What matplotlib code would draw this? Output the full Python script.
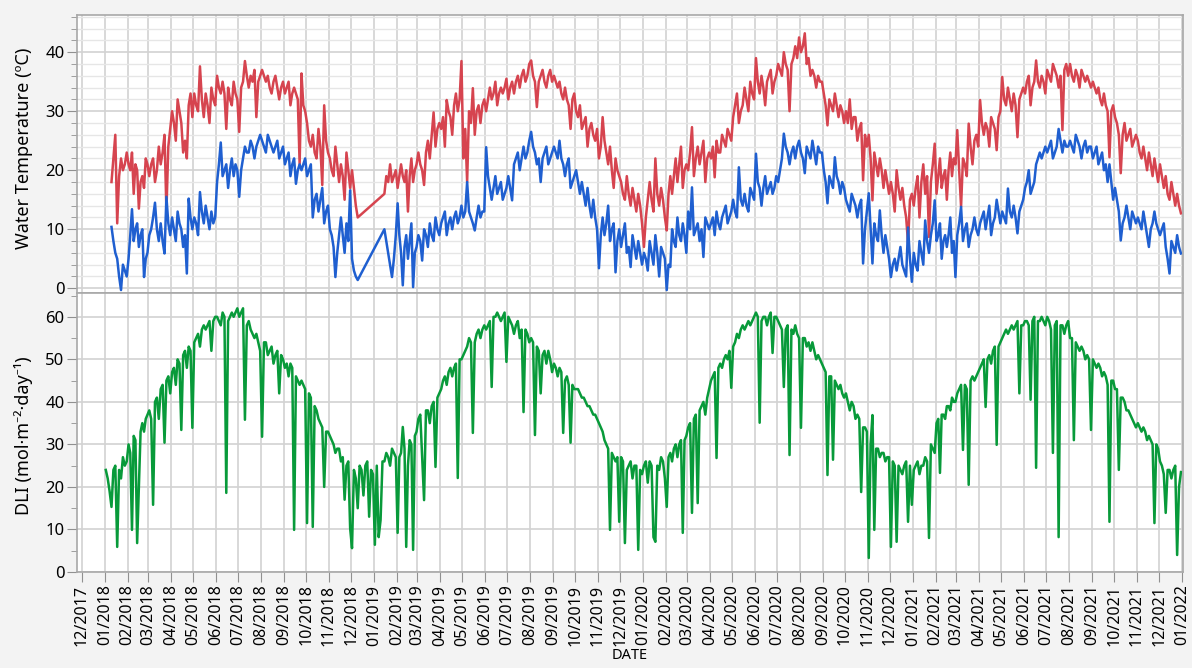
import numpy as np
import pandas as pd
import matplotlib
matplotlib.use("Agg")
import matplotlib.pyplot as plt
import matplotlib.dates as mdates
from matplotlib.ticker import MultipleLocator

plt.rcParams['font.family'] = ['Noto Sans', 'DejaVu Sans']

nan = np.nan

# values, 12 samples per month (rows = Jan..Dec)
# daily max water temperature (ºC)
tmax_2018 = [
    [nan, nan, nan, 18, 22, 26, 11, 19, 22, 20, 21, 23],
    [21, 20, 23, 16, 21, 20, 13.5, 18, 19, 17, 22, 21],
    [19, 21, 22, 18, 20, 24, 21, 23, 26, 13, 24, 27],
    [30, 28, 25, 32, 30, 28, 23, 25, 22, 31, 33, 29],
    [33, 31, 30, 37.6, 32, 29, 33, 31, 28, 34, 32, 31],
    [36, 34, 33, 35, 33, 27, 34, 32, 31, 35, 33, 32],
    [26.5, 34, 35, 38.5, 36, 34, 36, 35, 37, 29, 35, 36],
    [37, 36, 35, 36, 34, 33, 35, 36, 34, 32, 34, 35],
    [33, 34, 35, 31, 33, 34, 33, 32, 21, 36.4, 31, 30],
    [28, 25, 24, 26, 23, 22, 27, 24, 17.5, 31, 25, 23],
    [22, 20, 19, 24, 21, 18, 21, 19, 15, 23, 20, 17],
    [20, 17, 14, 12, nan, nan, nan, nan, nan, nan, nan, nan],
]
tmax_2019 = [
    [nan, nan, nan, nan, nan, 16, 19, 18, 21, 18, 19, 20],
    [17, 19, 21, 19, 18, 20, 13, 19, 22, 18, 20, 21],
    [23, 21, 20, 17.5, 23, 25, 22, 26, 29.8, 24, 27, 28],
    [27, 29, 24, 31.9, 30, 29, 26, 31, 33, 30, 32, 38.5],
    [22, 27, 18, 30, 28, 33.9, 26, 30, 31, 28, 31, 32],
    [30, 32, 34, 32, 33, 35, 31, 33, 34, 33, 34, 35.5],
    [32, 34, 35, 33, 35, 36, 34, 36, 37, 35, 36, 38],
    [38.6, 36, 35, 30.7, 35, 36, 37, 35, 34, 36, 37, 35],
    [36, 35, 34, 35, 33, 32, 34, 32, 31, 27, 32, 33],
    [30, 29, 31, 27, 28, 29, 24, 27, 28, 26, 25, 27],
    [22, 24, 29, 25, 23, 21, 24, 20, 17, 22, 20, 19],
    [18, 16, 15, 19, 16, 14, 17, 15, 13, 16, 14, 11],
]
tmax_2020 = [
    [7, 12, 15, 18, 15, 13, 22, 16, 14, 17, 15, 12],
    [9.8, 16, 19, 16, 19, 22, 18, 21, 24, 17, 20, 21],
    [20, 23, 27.3, 19, 22, 24, 21, 23, 25, 18, 22, 23],
    [22, 24, 18.8, 25, 23, 23, 26, 25, 24, 27, 26, 25],
    [29, 31, 33, 28, 30, 31, 34, 32, 30, 35, 33, 32],
    [39, 35, 33, 36, 34, 31, 35, 36, 37, 33, 35, 36],
    [38, 37, 36, 40, 38, 37, 30, 38, 39, 41, 39, 42.5],
    [40, 41, 43.2, 38, 39, 36, 37, 36, 34, 36, 35, 35],
    [33, 31, 27.6, 32, 31, 30, 33, 31, 29, 31, 30, 28],
    [30, 28, 32, 27, 29, 29, 25, 27, 28, 18.3, 26, 24],
    [26, 22, 14.9, 23, 21, 19, 22, 20, 17, 20, 18, 16],
    [18, 16, 13, 20, 17, 15, 17, 14, 12, 7.6, 15, 16],
]
tmax_2021 = [
    [14, 17, 19, 12, 18, 21, 16, 19, 8.7, 18, 21, 24.5],
    [16, 19, 22, 17, 19, 20, 15, 20, 23, 19, 22, 21],
    [26.8, 20, 13.8, 22, 21, 19, 27.9, 24, 21, 25, 26, 24],
    [31.9, 28, 26, 28, 27, 24, 29, 28, 27, 23.4, 29, 30],
    [35.8, 32, 31, 34, 32, 30, 33, 31, 25.6, 32, 33, 34],
    [33, 35, 36, 31, 34, 35, 38.6, 35, 34, 36, 35, 33],
    [37, 36, 35, 38, 37, 36, 34, 36, 26.8, 37, 38, 36],
    [38, 36, 35, 37, 36, 34, 37, 36, 35, 36, 35, 34],
    [35, 34, 33, 34, 32, 31, 33, 31, 30, 22.2, 30, 31],
    [29, 28, 26, 19.5, 26, 28, 25, 26, 27, 24, 25, 26],
    [25, 23, 22, 24, 22, 20, 23, 21, 19, 22, 20, 18],
    [21, 19, 17, 19, 16, 15, 18, 16, 14, 16, 14, 12.7],
]

# daily min water temperature (ºC)
tmin_2018 = [
    [nan, nan, nan, 10.4, 8, 6, 5, 2, -0.3, 4, 3, 2],
    [5, 9, 13.4, 8, 10, 11, 7, 9, 10, 1.9, 5, 6],
    [9, 10, 12, 14.5, 10, 8, 11, 8, 5.9, 15.5, 11, 9],
    [12, 10, 8, 13, 11, 10, 7, 9, 2.5, 15.2, 12, 10],
    [12, 11, 9, 16.3, 13, 11, 14, 12, 10, 13, 11, 12],
    [18, 21, 24.7, 19, 20, 21, 17, 20, 22, 19, 21, 20],
    [15.5, 20, 22, 24, 23, 23, 25, 24, 22, 24, 25, 26],
    [25, 24, 23, 26, 25, 24, 23, 24, 25, 22, 23, 24],
    [21, 22, 23, 19, 21, 22, 17.7, 20, 21, 20, 21, 22],
    [19, 20, 21, 12, 15, 16, 13, 15, 17, 11, 13, 14],
    [10, 9, 7, 1.9, 6, 9, 12, 9, 6, 11, 8, 16.6],
    [5, 3, 2, 1.4, nan, nan, nan, nan, nan, nan, nan, nan],
]
tmin_2019 = [
    [nan, nan, nan, nan, nan, 10, 8, 6, 4, 1.9, 5, 9],
    [14.4, 9, 6, 0.5, 7, 9, 5, 8, 11, 0.2, 6, 7],
    [9, 8, 4.7, 10, 9, 7, 11, 9, 8, 12, 10, 9],
    [11, 12, 13, 9, 11, 12, 10, 12, 13, 11, 12, 14],
    [12, 13, 18, 13, 12, 11, 9.8, 12, 14, 12, 13, 13],
    [23.9, 19, 17, 15, 17, 19, 16, 17, 18, 15, 16, 17],
    [19, 17, 14.9, 21, 22, 23, 20, 22, 24, 22, 23, 25],
    [26.5, 24, 23, 21, 22, 18, 22, 23, 24, 21, 22, 23],
    [24, 23, 22, 25, 22, 21, 19, 21, 22, 17, 18, 19],
    [20, 18, 16, 18, 16, 14, 17, 14, 12, 15, 12, 10],
    [3.4, 9, 12, 9, 11, 14, 8, 10, 11, 2.7, 8, 10],
    [7, 9, 11, 6, 7, 3.6, 9, 7, 5, 8, 6, 4],
]
tmin_2020 = [
    [6, 5, 3, 8, 6, 4, 9, 6, 2, 7, 6, 5],
    [-0.3, 4, 3.6, 10, 8, 7, 12, 9, 8, 11, 9, 6],
    [13, 10, 17.1, 9, 10, 11, 8, 10, 5.3, 12, 11, 10],
    [11, 12, 9, 13, 11, 10, 12, 13, 14, 11, 12, 13],
    [15, 13, 12, 20.5, 15, 14, 16, 14, 13, 17, 16, 15],
    [22.8, 18, 17, 14, 17, 19, 16, 17, 18, 16, 17, 19],
    [18, 20, 22, 26.2, 24, 23, 21, 23, 24, 22, 24, 25],
    [23, 22, 19.5, 24, 23, 22, 25, 23, 21, 24, 23, 23],
    [20, 18, 14.4, 19, 18, 17, 22.2, 19, 18, 16, 18, 17],
    [15, 14, 13, 16, 15, 14, 12, 14, 15, 4.2, 10, 13],
    [16.1, 10, 4.2, 11, 9, 8, 13.2, 9, 6, 9, 7, 5],
    [1.9, 4, 5, 3, 5, 7, 4, 3, 2, 10.3, 5, 1.1],
]
tmin_2021 = [
    [6, 4, 3, 8, 6, 4, 11.5, 8, 6, 9, 11, 14.9],
    [8, 9, 11, 5, 8, 9, 7, 9, 12, 6, 8, 1.9],
    [9, 11, 13.8, 8, 10, 11, 7, 9, 10, 12, 10, 9],
    [11, 12, 13, 10, 12, 14, 9, 11, 12, 15, 13, 11],
    [13, 12, 11, 16.9, 13, 12, 14, 12, 9.3, 13, 14, 15],
    [17, 18, 20, 16, 17, 18, 21, 22, 23, 22, 23, 24],
    [23, 24, 25, 22, 23, 24, 27, 25, 23, 25, 24, 24],
    [25, 24, 23, 26, 25, 24, 22, 24, 25, 23, 24, 24],
    [22, 23, 24, 21, 22, 23, 20, 21, 18, 21, 18, 15],
    [17, 15, 13, 8.1, 11, 12, 14, 12, 10, 13, 12, 11],
    [12, 11, 10, 13, 11, 9, 7, 10, 11, 13, 11, 10],
    [9, 10, 11, 7, 5, 2.5, 8, 7, 6, 9, 7, 5.9],
]

# daily light integral (mol·m-2·day-1)
dli_2018 = [
    [24, 22, 19, 15.3, 24, 25, 5.9, 24, 22, 27, 25, 26],
    [30, 28, 9.9, 32, 31, 6.8, 20, 33, 35, 33, 36, 37],
    [38, 36, 15.8, 40, 41, 36, 43, 44, 30.4, 45, 46, 42],
    [47, 48, 44, 50, 49, 33.4, 51, 52, 48, 53, 52, 33.9],
    [54, 55, 56, 53, 57, 58, 57, 58, 59, 52, 59, 60],
    [60, 59, 58, 61, 60, 18.6, 59, 60, 61, 60, 61, 62],
    [60, 61, 62, 35.8, 58, 59, 57, 56, 55, 56, 54, 52],
    [31.8, 54, 54, 51, 52, 53, 49, 51, 52, 42, 51, 50],
    [48, 49, 46, 49, 48, 9.9, 46, 45, 44, 45, 44, 43],
    [11.5, 42, 41, 10.6, 39, 38, 36, 35, 34, 20, 33, 33],
    [32, 31, 30, 28, 29, 29, 26, 27, 17, 25, 26, 10.3],
    [5.6, 24, 22, 15, 25, 24, 18, 25, 26, 13, 24, 23],
]
dli_2019 = [
    [6.4, 25, 8.2, 12.2, 26, 26, 28, 27, 25, 29, 28, 27],
    [9.2, 27, 28, 34.1, 29, 5.9, 25, 31, 30, 5.2, 32, 33],
    [36, 37, 27, 16.9, 38, 38, 35, 39, 40, 24.7, 41, 42],
    [43, 45, 46, 44, 47, 48, 46, 48, 49, 22.1, 50, 50],
    [51, 52, 53, 55, 54, 32.7, 54, 56, 57, 55, 57, 58],
    [57, 58, 59, 43.5, 60, 60, 61, 60, 59, 60, 61, 49.4],
    [60, 59, 58, 56, 58, 59, 55, 57, 37.6, 57, 56, 54],
    [55, 54, 32.2, 53, 52, 42, 51, 52, 49, 52, 50, 47],
    [49, 48, 46, 48, 47, 32.7, 45, 46, 44, 30.4, 44, 43],
    [43, 43, 42, 41, 41, 40, 39, 39, 38, 37, 37, 36],
    [35, 34, 33, 31, 30, 29, 9.9, 28, 27, 26, 27, 11.8],
    [27, 26, 6.8, 24, 25, 26, 22, 25, 25, 5.2, 24, 23],
]
dli_2020 = [
    [25, 26, 21, 26, 25, 8.2, 7.1, 25, 24, 27, 26, 22],
    [15.3, 27, 28, 26, 29, 30, 27, 30, 31, 9.2, 31, 32],
    [34, 35, 13.9, 36, 37, 16.2, 38, 39, 40, 37, 41, 43],
    [45, 46, 47, 26.8, 48, 49, 48, 50, 51, 50, 52, 43.3],
    [53, 54, 56, 55, 57, 58, 57, 58, 59, 58, 59, 60],
    [61, 60, 35.1, 59, 60, 60, 58, 60, 61, 51.5, 60, 60],
    [59, 58, 57, 43.5, 57, 58, 27.5, 57, 56, 58, 56, 55],
    [33.9, 55, 55, 53, 54, 52, 54, 52, 50, 51, 50, 49],
    [48, 47, 22.8, 46, 46, 26.4, 45, 44, 43, 44, 42, 41],
    [42, 40, 38, 40, 39, 36, 37, 36, 18.8, 34, 34, 33],
    [3.3, 30, 36.9, 9.9, 29, 29, 27, 28, 28, 26, 27, 27],
    [5.9, 26, 25, 7.1, 25, 24, 23, 25, 26, 11.8, 25, 15.8],
]
dli_2021 = [
    [24, 25, 26, 23, 25, 25, 27, 26, 8, 30, 29, 28],
    [35, 36, 23.3, 37, 37, 36, 39, 39, 38, 41, 40, 40],
    [42, 43, 44, 28.7, 44, 43, 20.5, 45, 46, 45, 46, 47],
    [48, 49, 50, 38.8, 50, 51, 49, 52, 53, 29.9, 53, 54],
    [55, 56, 57, 56, 57, 58, 57, 58, 59, 42, 58, 58],
    [59, 59, 58, 40.5, 59, 60, 24.5, 59, 59, 60, 59, 58],
    [60, 59, 57, 28, 58, 59, 8.2, 58, 58, 56, 58, 59],
    [55, 55, 31, 54, 53, 52, 53, 52, 50, 51, 50, 33.4],
    [50, 49, 48, 49, 48, 46, 47, 46, 44, 11.8, 45, 45],
    [43, 43, 24, 41, 41, 40, 38, 38, 37, 36, 35, 34],
    [35, 34, 33, 34, 33, 31, 32, 31, 30, 11.5, 30, 29],
    [26, 25, 23, 13.9, 24, 24, 22, 24, 25, 4, 20, 23.5],
]

years = [2018, 2019, 2020, 2021]


def to_series(yearly):
    dates, vals = [], []
    for year, months in zip(years, yearly):
        for m, mv in enumerate(months, start=1):
            start = pd.Timestamp(year, m, 1)
            n = len(mv)
            off = (np.arange(n) + 0.5) * start.days_in_month / n
            dates.extend(start + pd.to_timedelta(off, unit='D'))
            vals.extend(mv)
    s = pd.Series(vals, index=pd.DatetimeIndex(dates)).dropna()
    return s


tmax = to_series([tmax_2018, tmax_2019, tmax_2020, tmax_2021])
tmin = to_series([tmin_2018, tmin_2019, tmin_2020, tmin_2021])
dli = to_series([dli_2018, dli_2019, dli_2020, dli_2021])

fig = plt.figure(figsize=(11.92, 6.68), dpi=100, facecolor='#f3f3f3')
ax1 = fig.add_axes([77 / 1192, 1 - 293 / 668, 1106 / 1192, 278 / 668])
ax2 = fig.add_axes([77 / 1192, 1 - 572 / 668, 1106 / 1192, 279 / 668], sharex=ax1)

ax1.plot(tmax.index, tmax.values, color='#d6444f', lw=1.8)
ax1.plot(tmin.index, tmin.values, color='#1f5fd0', lw=1.8)
ax2.plot(dli.index, dli.values, color='#089a3a', lw=1.8)

ax1.set_xlim(pd.Timestamp('2017-11-24 06:00'), pd.Timestamp('2022-01-02 12:00'))
ax1.set_ylim(-0.8, 46.3)
ax2.set_ylim(0, 65.6)

ax2.xaxis.set_major_locator(mdates.MonthLocator())
ax2.xaxis.set_major_formatter(mdates.DateFormatter('%m/%Y'))
ax1.tick_params(axis='x', length=0, labelbottom=False)
ax2.tick_params(axis='x', rotation=90, labelsize=11.5, length=7,
                color='#909090', pad=2)

ax1.yaxis.set_major_locator(MultipleLocator(10))
ax1.yaxis.set_minor_locator(MultipleLocator(2))
ax2.yaxis.set_major_locator(MultipleLocator(10))
ax2.yaxis.set_minor_locator(MultipleLocator(5))

for ax in (ax1, ax2):
    ax.set_facecolor('white')
    ax.tick_params(axis='y', which='major', labelsize=12, length=7,
                   color='#909090', pad=2)
    ax.tick_params(axis='y', which='minor', length=4, color='#909090')
    ax.grid(True, which='major', color='#d2d2d2', lw=1.2)
    ax.set_axisbelow(True)
    for sp in ax.spines.values():
        sp.set_color('#a8a8a8')
        sp.set_linewidth(1.2)

ax1.grid(True, which='minor', axis='y', color='#e6e6e6', lw=1.0)

ax1.set_ylabel('Water Temperature (ºC)', fontsize=13)
ax2.set_ylabel('DLI (mol·m⁻²·day⁻¹)', fontsize=13)
ax1.yaxis.set_label_coords(-0.040, 0.52)
ax2.yaxis.set_label_coords(-0.040, 0.49)
ax2.set_xlabel('DATE', fontsize=10.5, labelpad=2)

fig.savefig('out.png', dpi=100, facecolor=fig.get_facecolor())
